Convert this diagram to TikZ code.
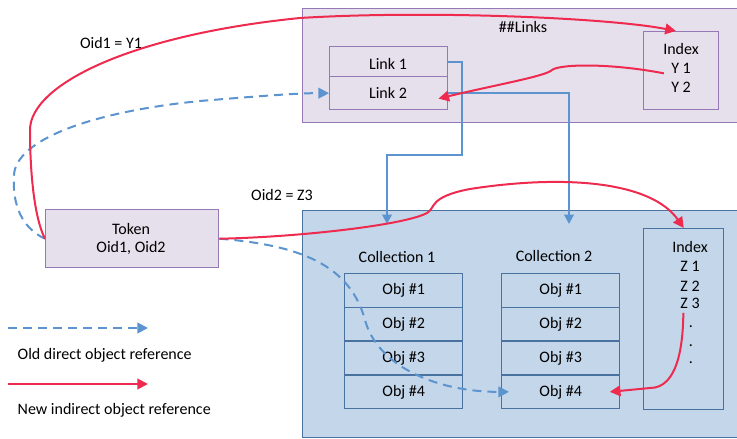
\documentclass[tikz,border=0pt]{standalone}
\usepackage{fontspec}
\setmainfont{Carlito}
\usetikzlibrary{arrows.meta,positioning}
\definecolor{linkfill}{HTML}{E6E0EC}
\definecolor{linkborder}{HTML}{9479B5}
\definecolor{collfill}{HTML}{C4D6EA}
\definecolor{collborder}{HTML}{4A72A0}
\definecolor{refblue}{HTML}{5B94CE}
\definecolor{refred}{HTML}{EE2A4F}
\tikzset{
  panelbox/.style={draw, line width=1.1pt, anchor=north west, inner sep=0pt},
  linkbox/.style={panelbox, draw=linkborder, fill=linkfill},
  collbox/.style={panelbox, draw=collborder, fill=collfill},
  objcell/.style={collbox, minimum width=88.5pt, minimum height=25.3pt},
  oldref/.style={draw=refblue, line width=1.5pt, dash pattern=on 6.75pt off 4.5pt, -{Triangle[length=8pt,width=8pt]}},
  newref/.style={draw=refred, line width=1.5pt, -{Triangle[length=8pt,width=8pt]}},
  linkref/.style={draw=refblue, line width=1.5pt, -{Triangle[length=7pt,width=7pt]}},
}

\begin{document}
\begin{tikzpicture}[x=0.75pt,y=0.75pt,yscale=-1,xscale=1,font=\fontsize{12}{14}\selectfont]
    \useasboundingbox (0,0) rectangle (737,438);

    %Shape: ##Links panel
    \node[linkbox, minimum width=327pt, minimum height=85.5pt] (linkspanel) at (302,8) {};
    \node (linkstitle) at (523,27) {\#\#Links};
    %Shape: Link rows
    \node[linkbox, minimum width=88.5pt, minimum height=22.5pt] (link1) at (329,46) {};
    \node[linkbox, minimum width=88.5pt, minimum height=24.75pt] (link2) at (329,76) {};
    \node (link1lbl) at (388,64) {Link 1};
    \node (link2lbl) at (388,93) {Link 2};
    %Shape: Index of links
    \node[linkbox, minimum width=56.25pt, minimum height=58.5pt] (yindex) at (643,31) {};
    \node (yidxlbl) at (681,49) {Index};
    \node (y1) at (681,68) {Y 1};
    \node (y2) at (681,87) {Y 2};

    %Shape: Token
    \node[linkbox, minimum width=129.75pt, minimum height=43.5pt] (token) at (45,209) {};
    \node[align=center] (toklbl) at (131,239) {Token\\Oid1, Oid2};

    %Shape: collections panel
    \node[collbox, minimum width=327pt, minimum height=170.25pt] (collpanel) at (302,210) {};
    \node (col1lbl) at (397,257) {Collection 1};
    \node (col2lbl) at (554,256) {Collection 2};
    \foreach \c/\xl in {1/344, 2/501}
      \foreach \i in {1,...,4}
        \node[objcell] (obj\c-\i) at (\xl,{273+33.75*(\i-1)}) {Obj \#\i};
    %Shape: Index of objects
    \node[collbox, minimum width=60pt, minimum height=135.75pt] (zindex) at (643,228) {};
    \node (zidxlbl) at (690,247) {Index};
    \node (z1) at (690,266) {Z 1};
    \node (z2) at (690,286) {Z 2};
    \node (z3) at (690,303) {Z 3};
    \foreach \y in {327,346,363}
      \node (zdot\y) at (691,\y) {.};

    % Text Node
    \node (oid1lbl) at (111,43) {Oid1 = Y1};
    \node (oid2lbl) at (282,195) {Oid2 = Z3};

    %Straight Lines: links to collections
    \coordinate (c1in) at (387,224);
    \coordinate (c2in) at (569,224);
    \draw[linkref] (link1.east) -| (462,155) -| (c1in);
    \draw[linkref] (link2.east) -| (c2in);

    %Curves: old direct references
    \draw[oldref] (token.west) .. controls (22,228) and (12,205) .. (14,175) .. controls (16,140) and (90,112) .. (200,101) .. controls (260,96) and (300,93) .. (link2.west);
    \draw[oldref] (token.east) .. controls (300,245) and (350,265) .. (365,320) .. controls (378,368) and (440,392) .. ([xshift=6pt]obj2-4.west);

    %Curves: new indirect references
    \draw[newref] (token.west) .. controls (33,215) and (30,165) .. (30,130) .. controls (30,85) and (130,35) .. (300,18) .. controls (430,10) and (610,18) .. ([xshift=-4pt]yindex.north);
    \draw[newref] ([xshift=-2pt,yshift=4pt]y1.west) .. controls (610,63) and (560,64) .. (552,70) .. controls (546,76) and (500,84) .. ([xshift=-7.5pt,yshift=4pt]link2.east);
    \draw[newref] (token.east) .. controls (300,237) and (405,225) .. (427,213) .. controls (436,208) and (428,197) .. (470,189) .. controls (560,175) and (650,180) .. (zindex.north);
    \draw[newref] ([xshift=-5pt]z3.south) .. controls (683,345) and (678,388) .. (650,388) -- ([xshift=-8pt]obj2-4.east);

    % Legend
    \coordinate (oldA) at (8,328);
    \coordinate (oldB) at (148,328);
    \draw[oldref] (oldA) -- (oldB);
    \node[anchor=west] (oldtxt) at (13,355) {Old direct object reference};
    \coordinate (newA) at (8,384);
    \coordinate (newB) at (148,384);
    \draw[newref] (newA) -- (newB);
    \node[anchor=west] (newtxt) at (13,410) {New indirect object reference};

\end{tikzpicture}
\end{document}
